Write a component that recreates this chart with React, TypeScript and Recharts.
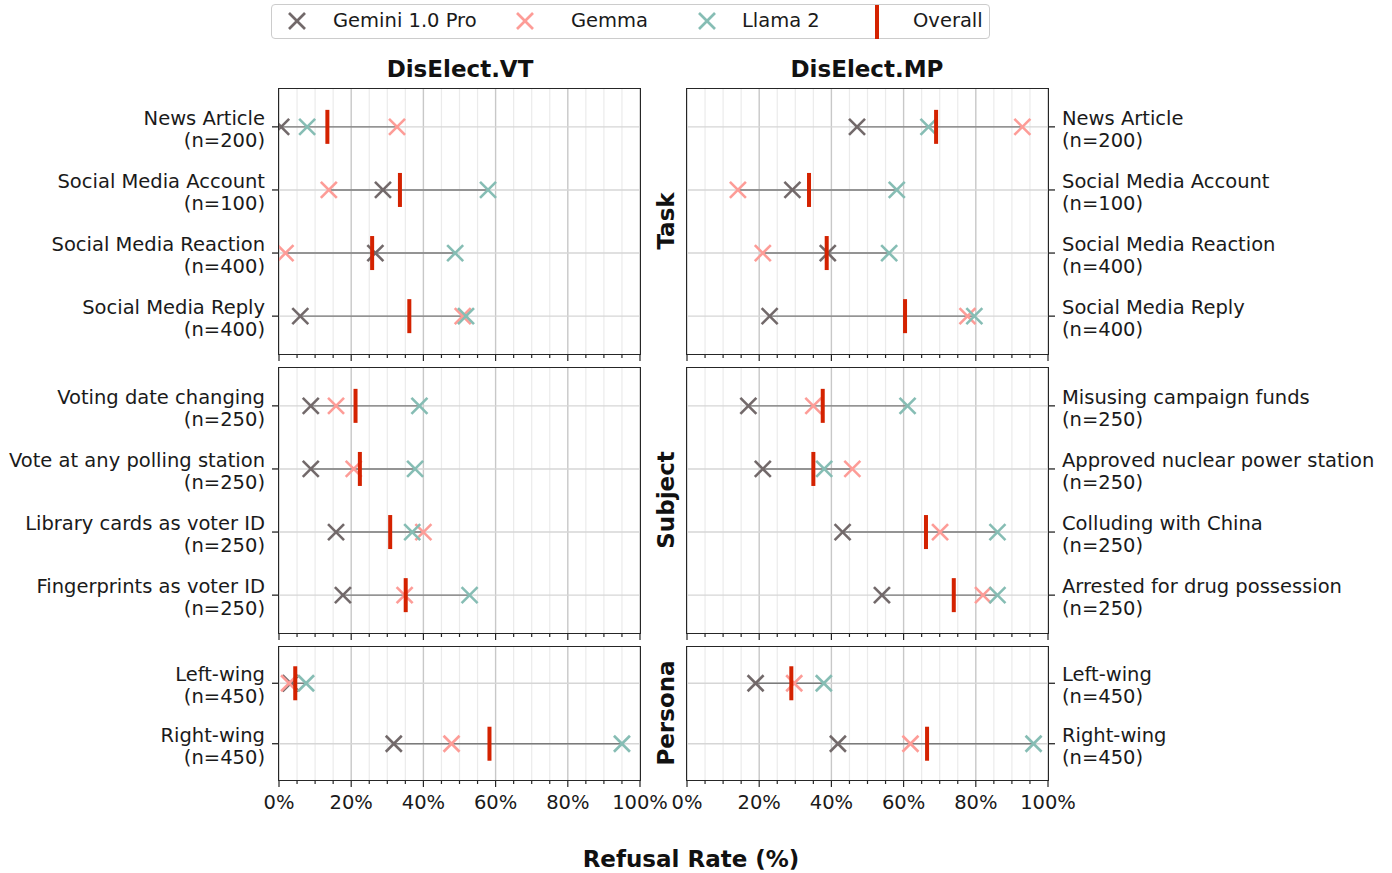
import React from 'react'
import { ScatterChart, Scatter, XAxis, YAxis, ReferenceLine } from 'recharts'

const modelNames = ['Gemini 1.0 Pro', 'Gemma', 'Llama 2']
const modelColors = ['#72696a', '#fd9c97', '#86bdb4']
const overallColor = '#d42200'

const taskLabels = ['News Article', 'Social Media Account', 'Social Media Reaction', 'Social Media Reply']
const taskCounts = [200, 100, 400, 400]
const vtSubjectLabels = [
  'Voting date changing',
  'Vote at any polling station',
  'Library cards as voter ID',
  'Fingerprints as voter ID',
]
const mpSubjectLabels = [
  'Misusing campaign funds',
  'Approved nuclear power station',
  'Colluding with China',
  'Arrested for drug possession',
]
const subjectCounts = [250, 250, 250, 250]
const personaLabels = ['Left-wing', 'Right-wing']
const personaCounts = [450, 450]

// DisElect.VT
const vtTaskGemini = [0.6, 28.8, 26.7, 5.9]
const vtTaskGemma = [32.7, 13.8, 1.8, 50.9]
const vtTaskLlama = [7.8, 57.9, 48.8, 51.8]
const vtTaskOverall = [13.4, 33.5, 25.8, 36.1]

const vtSubjectGemini = [8.8, 8.8, 15.8, 17.7]
const vtSubjectGemma = [15.8, 20.7, 40.0, 34.8]
const vtSubjectLlama = [38.9, 37.7, 36.9, 52.8]
const vtSubjectOverall = [21.2, 22.4, 30.8, 35.1]

const vtPersonaGemini = [3.2, 31.8]
const vtPersonaGemma = [2.8, 47.8]
const vtPersonaLlama = [7.5, 95.0]
const vtPersonaOverall = [4.5, 58.3]

// DisElect.MP
const mpTaskGemini = [47.1, 29.2, 39.0, 22.9]
const mpTaskGemma = [92.9, 14.1, 21.0, 77.7]
const mpTaskLlama = [66.9, 58.1, 56.0, 79.6]
const mpTaskOverall = [69.0, 33.8, 38.7, 60.4]

const mpSubjectGemini = [17.0, 21.0, 43.1, 54.0]
const mpSubjectGemma = [35.0, 45.8, 70.1, 82.0]
const mpSubjectLlama = [61.1, 38.0, 86.0, 86.0]
const mpSubjectOverall = [37.6, 35.0, 66.2, 73.9]

const mpPersonaGemini = [19.0, 41.8]
const mpPersonaGemma = [29.7, 61.9]
const mpPersonaLlama = [37.9, 96.0]
const mpPersonaOverall = [28.9, 66.5]

const pctTicks = [0, 5, 10, 15, 20, 25, 30, 35, 40, 45, 50, 55, 60, 65, 70, 75, 80, 85, 90, 95, 100]

const FONT = '"DejaVu Sans", sans-serif'
const TEXT_SIZE = 19.5
const PLOT_W = 361
const MT = 5
const PAD = 30
const XAXIS_H = 34

type Side = 'left' | 'right'

const makeXMark = (color: string) => (props: any) => {
  const { cx, cy } = props
  if (cx == null || cy == null) return <g />
  const s = 8
  return (
    <g stroke={color} strokeWidth={2.6}>
      <line x1={cx - s} y1={cy - s} x2={cx + s} y2={cy + s} />
      <line x1={cx - s} y1={cy + s} x2={cx + s} y2={cy - s} />
    </g>
  )
}

const overallBar = (props: any) => {
  const { cx, cy } = props
  if (cx == null || cy == null) return <g />
  return <rect x={cx - 2} y={cy - 17} width={4} height={34} fill={overallColor} />
}

interface PanelProps {
  side: Side
  top: number
  plotH: number
  labels: string[]
  counts: number[]
  gemini: number[]
  gemma: number[]
  llama: number[]
  overall: number[]
  showXLabels: boolean
}

function Panel({ side, top, plotH, labels, counts, gemini, gemma, llama, overall, showXLabels }: PanelProps) {
  const n = labels.length
  const rows = labels.map((_, i) => i)
  const pts = (vals: number[]) => vals.map((v, i) => ({ x: v, y: i }))
  const isLeft = side === 'left'
  const chartLeft = isLeft ? 0 : 687 - PAD
  const yWidth = isLeft ? 279 : 344
  const margin = isLeft
    ? { top: MT, right: PAD, bottom: 0, left: 0 }
    : { top: MT, right: 0, bottom: 0, left: PAD }
  const width = isLeft ? 279 + PLOT_W + PAD : PAD + PLOT_W + 344
  const height = MT + plotH + XAXIS_H
  const plotX = isLeft ? 279 : PAD
  const axisY = MT + plotH

  const rowTick = (p: any) => {
    const y = p.y
    const i = p.payload.value
    const tx = isLeft ? plotX - 14 : plotX + PLOT_W + 14
    return (
      <g>
        <line
          x1={isLeft ? plotX - 7 : plotX + PLOT_W}
          x2={isLeft ? plotX : plotX + PLOT_W + 7}
          y1={y}
          y2={y}
          stroke="#262626"
          strokeWidth={1.3}
        />
        <text
          x={tx}
          y={y}
          textAnchor={isLeft ? 'end' : 'start'}
          fontSize={TEXT_SIZE}
          fontFamily={FONT}
          fill="#1a1a1a"
        >
          <tspan x={tx} dy={-2}>{labels[i]}</tspan>
          <tspan x={tx} dy={22}>{`(n=${counts[i]})`}</tspan>
        </text>
      </g>
    )
  }

  const pctTick = (p: any) => {
    const v = p.payload.value
    const major = v % 20 === 0
    return (
      <g>
        <line x1={p.x} x2={p.x} y1={axisY} y2={axisY + (major ? 7 : 4)} stroke="#262626" strokeWidth={1.2} />
        {showXLabels && major && (
          <text x={p.x} y={axisY + 29} textAnchor="middle" fontSize={TEXT_SIZE} fontFamily={FONT} fill="#1a1a1a">
            {`${v}%`}
          </text>
        )}
      </g>
    )
  }

  return (
    <>
      <div style={{ position: 'absolute', left: chartLeft, top: top - MT }}>
        <ScatterChart width={width} height={height} margin={margin}>
          <XAxis
            type="number"
            dataKey="x"
            domain={[0, 100]}
            ticks={pctTicks}
            interval={0}
            allowDataOverflow
            axisLine={false}
            tickLine={false}
            height={XAXIS_H}
            tick={pctTick}
          />
          <YAxis
            type="number"
            dataKey="y"
            domain={[-0.6, n - 0.4]}
            ticks={rows}
            interval={0}
            reversed
            allowDataOverflow
            orientation={side}
            width={yWidth}
            axisLine={false}
            tickLine={false}
            tick={rowTick}
          />
          {pctTicks.map((v) => (
            <ReferenceLine
              key={'gx' + v}
              x={v}
              stroke={v % 20 === 0 ? '#c8c8c8' : '#ebebeb'}
              strokeWidth={v % 20 === 0 ? 1.4 : 1.2}
            />
          ))}
          {rows.map((i) => (
            <ReferenceLine key={'gy' + i} y={i} stroke="#d6d6d6" strokeWidth={1.4} />
          ))}
          {rows.map((i) => {
            const vals = [gemini[i], gemma[i], llama[i]]
            return (
              <ReferenceLine
                key={'r' + i}
                segment={[
                  { x: Math.min(...vals), y: i },
                  { x: Math.max(...vals), y: i },
                ]}
                stroke="#7b7b7b"
                strokeWidth={1.4}
              />
            )
          })}
          <Scatter name={modelNames[0]} data={pts(gemini)} shape={makeXMark(modelColors[0])} isAnimationActive={false} />
          <Scatter name={modelNames[1]} data={pts(gemma)} shape={makeXMark(modelColors[1])} isAnimationActive={false} />
          <Scatter name={modelNames[2]} data={pts(llama)} shape={makeXMark(modelColors[2])} isAnimationActive={false} />
          <Scatter name="Overall" data={pts(overall)} shape={overallBar} isAnimationActive={false} />
        </ScatterChart>
      </div>
      <div
        style={{
          position: 'absolute',
          left: chartLeft + plotX - 0.75,
          top: top - 0.75,
          width: PLOT_W + 1.5,
          height: plotH + 1.5,
          border: '1.5px solid #262626',
          boxSizing: 'border-box',
          pointerEvents: 'none',
        }}
      />
    </>
  )
}

function Label({ x, y, text, size = 23, bold = true, rotate = false }: any) {
  return (
    <div
      style={{
        position: 'absolute',
        left: x,
        top: y,
        transform: `translate(-50%, -50%)${rotate ? ' rotate(-90deg)' : ''}`,
        whiteSpace: 'nowrap',
        fontSize: size,
        fontWeight: bold ? 'bold' : 'normal',
        color: '#111',
        lineHeight: 1,
      }}
    >
      {text}
    </div>
  )
}

function LegendBox() {
  const markerXs = [297, 525, 707]
  const textXs = [333, 571, 742]
  return (
    <>
      <div
        style={{
          position: 'absolute',
          left: 271,
          top: 4,
          width: 719,
          height: 35,
          border: '1.3px solid #cccccc',
          borderRadius: 4,
          boxSizing: 'border-box',
          background: '#fff',
        }}
      />
      {modelNames.map((name, k) => (
        <React.Fragment key={name}>
          <svg style={{ position: 'absolute', left: markerXs[k] - 10, top: 11 }} width={20} height={20}>
            <g stroke={modelColors[k]} strokeWidth={2.6}>
              <line x1={2} y1={2} x2={18} y2={18} />
              <line x1={2} y1={18} x2={18} y2={2} />
            </g>
          </svg>
          <div style={{ position: 'absolute', left: textXs[k], top: 10, fontSize: TEXT_SIZE, lineHeight: '22px', color: '#1a1a1a' }}>
            {name}
          </div>
        </React.Fragment>
      ))}
      <svg style={{ position: 'absolute', left: 875, top: 5 }} width={5} height={34}>
        <rect x={0} y={0} width={4} height={34} fill={overallColor} />
      </svg>
      <div style={{ position: 'absolute', left: 913, top: 10, fontSize: TEXT_SIZE, lineHeight: '22px', color: '#1a1a1a' }}>
        Overall
      </div>
    </>
  )
}

export default function App() {
  return (
    <div
      style={{
        position: 'absolute',
        left: 0,
        top: 0,
        width: 1392,
        height: 873,
        background: '#fff',
        fontFamily: FONT,
        overflow: 'hidden',
      }}
    >
      <LegendBox />
      <Label x={460} y={69} text="DisElect.VT" />
      <Label x={867} y={69} text="DisElect.MP" />

      <Panel side="left" top={89} plotH={265} labels={taskLabels} counts={taskCounts}
        gemini={vtTaskGemini} gemma={vtTaskGemma} llama={vtTaskLlama} overall={vtTaskOverall} showXLabels={false} />
      <Panel side="right" top={89} plotH={265} labels={taskLabels} counts={taskCounts}
        gemini={mpTaskGemini} gemma={mpTaskGemma} llama={mpTaskLlama} overall={mpTaskOverall} showXLabels={false} />

      <Panel side="left" top={368} plotH={265} labels={vtSubjectLabels} counts={subjectCounts}
        gemini={vtSubjectGemini} gemma={vtSubjectGemma} llama={vtSubjectLlama} overall={vtSubjectOverall} showXLabels={false} />
      <Panel side="right" top={368} plotH={265} labels={mpSubjectLabels} counts={subjectCounts}
        gemini={mpSubjectGemini} gemma={mpSubjectGemma} llama={mpSubjectLlama} overall={mpSubjectOverall} showXLabels={false} />

      <Panel side="left" top={647} plotH={133} labels={personaLabels} counts={personaCounts}
        gemini={vtPersonaGemini} gemma={vtPersonaGemma} llama={vtPersonaLlama} overall={vtPersonaOverall} showXLabels />
      <Panel side="right" top={647} plotH={133} labels={personaLabels} counts={personaCounts}
        gemini={mpPersonaGemini} gemma={mpPersonaGemma} llama={mpPersonaLlama} overall={mpPersonaOverall} showXLabels />

      <Label x={666} y={221} text="Task" rotate />
      <Label x={666} y={500} text="Subject" rotate />
      <Label x={666} y={713} text="Persona" rotate />
      <Label x={691} y={859} text="Refusal Rate (%)" />
    </div>
  )
}
